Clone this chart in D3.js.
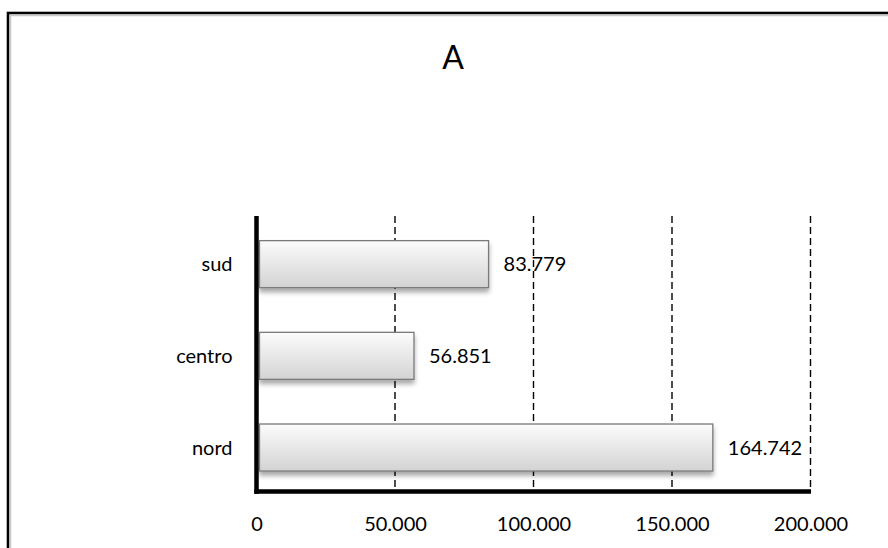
<!DOCTYPE html>
<html><head><meta charset="utf-8">
<script src="https://cdn.jsdelivr.net/npm/d3@7"></script>
<style>body{margin:0;background:#fff}svg{display:block}</style>
</head><body><svg id="c" width="888" height="548"></svg>
<script>
const categories = ["nord", "centro", "sud"];
const values = [164742, 56851, 83779];
const tickValues = [0, 50000, 100000, 150000, 200000];
const title = "A";

const svg = d3.select("#c");
const font = "Lato, 'Open Sans', sans-serif";
// frame
svg.append("rect").attr("x", 8).attr("y", 13).attr("width", 900).attr("height", 600)
  .attr("fill", "none").attr("stroke", "#000").attr("stroke-width", 2.6);
svg.append("rect").attr("x", 10.5).attr("y", 15.5).attr("width", 900).attr("height", 600)
  .attr("fill", "none").attr("stroke", "#c8c8c8").attr("stroke-width", 1.5);

const defs = svg.append("defs");
const g1 = defs.append("linearGradient").attr("id", "bg").attr("x1", 0).attr("y1", 0).attr("x2", 0).attr("y2", 1);
g1.append("stop").attr("offset", "0%").attr("stop-color", "#fcfcfc");
g1.append("stop").attr("offset", "100%").attr("stop-color", "#d3d3d3");
const f = defs.append("filter").attr("id", "sh").attr("x", "-5%").attr("y", "-20%").attr("width", "110%").attr("height", "160%");
f.append("feGaussianBlur").attr("in", "SourceAlpha").attr("stdDeviation", 2.5);
f.append("feOffset").attr("dx", 0).attr("dy", 4).attr("result", "b");
f.append("feComponentTransfer").append("feFuncA").attr("type", "linear").attr("slope", 0.35);
const m = f.append("feMerge"); m.append("feMergeNode"); m.append("feMergeNode").attr("in", "SourceGraphic");

const x0 = 256.5, x1 = 810.5, yTop = 216, yBot = 491.5;
const x = d3.scaleLinear().domain([0, 200000]).range([x0, x1]);
const y = d3.scaleBand().domain(categories).range([493.4, 218.3]).paddingInner(0.487).paddingOuter(0.2437);

// gridlines
svg.append("g").selectAll("line").data(tickValues.slice(1)).join("line")
  .attr("x1", d => x(d)).attr("x2", d => x(d)).attr("y1", yTop).attr("y2", yBot)
  .attr("stroke", "#000").attr("stroke-width", 1.4).attr("stroke-dasharray", "7,4");

// bars
svg.append("g").selectAll("rect").data(categories).join("rect")
  .attr("x", x(0) + 3).attr("y", d => y(d))
  .attr("width", (d, i) => x(values[i]) - x(0) - 3).attr("height", y.bandwidth())
  .attr("fill", "url(#bg)").attr("stroke", "#7a7a7a").attr("stroke-width", 1.3)
  .attr("filter", "url(#sh)");

// value labels
svg.append("g").selectAll("text").data(categories).join("text")
  .attr("x", (d, i) => x(values[i]) + 15).attr("y", d => y(d) + y.bandwidth() / 2)
  .attr("dy", "0.36em").attr("font-family", font).attr("font-size", 20).attr("fill", "#000")
  .text((d, i) => d3.format(",")(values[i]).replace(/,/g, "."));

// axes
svg.append("line").attr("x1", x0).attr("x2", x0).attr("y1", yTop).attr("y2", yBot + 2.2)
  .attr("stroke", "#000").attr("stroke-width", 4.5);
svg.append("line").attr("x1", x0 - 2.2).attr("x2", x1 + 0.5).attr("y1", yBot).attr("y2", yBot)
  .attr("stroke", "#000").attr("stroke-width", 4.5);

const xAxis = d3.axisBottom(x).tickValues(tickValues).tickSize(0).tickPadding(0)
  .tickFormat(d => d3.format(",")(d).replace(/,/g, "."));
const ax = svg.append("g").attr("transform", `translate(0,${yBot})`).call(xAxis);
ax.select(".domain").remove();
ax.selectAll("text").attr("font-family", font).attr("font-size", 20).attr("fill", "#000").attr("dy", "0").attr("y", 39.5);

const yAxis = d3.axisLeft(y).tickSize(0).tickPadding(24);
const ay = svg.append("g").attr("transform", `translate(${x0},0)`).call(yAxis);
ay.select(".domain").remove();
ay.selectAll("text").attr("font-family", font).attr("font-size", 20).attr("fill", "#000").attr("dy", "0.36em");

svg.append("text").attr("x", 453).attr("y", 69).attr("text-anchor", "middle")
  .attr("font-family", font).attr("font-size", 32).attr("fill", "#000").text(title);
</script></body></html>
